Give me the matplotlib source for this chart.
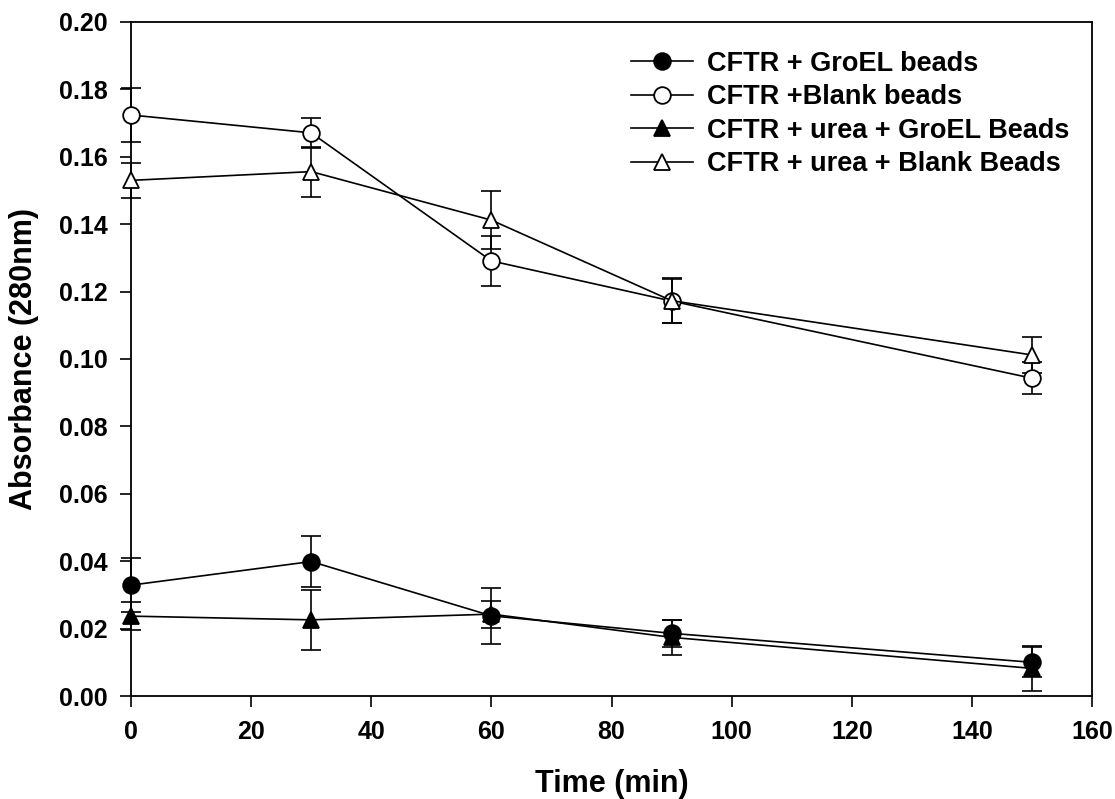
import matplotlib
matplotlib.use("Agg")
import matplotlib.pyplot as plt
import numpy as np

plt.rcParams['font.family'] = ['Liberation Sans', 'DejaVu Sans']
plt.rcParams['font.weight'] = 'bold'

time = [0, 30, 60, 90, 150]

groel = [0.0329, 0.0399, 0.0238, 0.0186, 0.0100]
groel_err = [0.0080, 0.0076, 0.0083, 0.0041, 0.0044]

blank = [0.1724, 0.1671, 0.1291, 0.1172, 0.0943]
blank_err = [0.0081, 0.0044, 0.0075, 0.0066, 0.0047]

urea_groel = [0.0237, 0.0226, 0.0243, 0.0174, 0.0082]
urea_groel_err = [0.0042, 0.0089, 0.0040, 0.0052, 0.0067]

urea_blank = [0.1530, 0.1556, 0.1412, 0.1173, 0.1012]
urea_blank_err = [0.0053, 0.0074, 0.0085, 0.0066, 0.0053]

labels = ["CFTR + GroEL beads", "CFTR +Blank beads",
          "CFTR + urea + GroEL Beads", "CFTR + urea + Blank Beads"]

fig = plt.figure(figsize=(11.15, 7.99), dpi=100)
ax = fig.add_axes([0.1175, 0.1289, 0.9794 - 0.1175, 0.9725 - 0.1289])

series = [
    (groel, groel_err, 'o', 'black'),
    (blank, blank_err, 'o', 'white'),
    (urea_groel, urea_groel_err, '^', 'black'),
    (urea_blank, urea_blank_err, '^', 'white'),
]
handles = []
for (vals, err, m, fc), lab in zip(series, labels):
    eb = ax.errorbar(time, vals, yerr=err, fmt='none', ecolor='black',
                     elinewidth=1.2, capsize=7.5, capthick=1.2, zorder=2)
    for art in eb.get_children():
        art.set_clip_on(False)
    h, = ax.plot(time, vals, color='black', lw=1.2, marker=m,
                 markersize=12 if m == 'o' else 11,
                 markerfacecolor=fc, markeredgecolor='black',
                 markeredgewidth=1.3, label=lab, zorder=3, clip_on=False)
    handles.append(h)

ax.set_xlim(0, 160)
ax.set_ylim(0, 0.20)
ax.set_xticks(np.arange(0, 161, 20))
ax.set_yticks(np.arange(0, 0.201, 0.02))
ax.set_yticklabels([f"{v:.2f}" for v in np.arange(0, 0.201, 0.02)])
ax.tick_params(direction='out', length=8, width=1.2, labelsize=18,
               top=False, right=False, pad=9)
for lab in ax.get_xticklabels() + ax.get_yticklabels():
    lab.set_fontweight('bold')
for s in ax.spines.values():
    s.set_linewidth(1.3)

ax.set_xlabel("Time (min)", fontsize=22, fontweight='bold', labelpad=18)
ax.set_ylabel("Absorbance (280nm)", fontsize=22, fontweight='bold', labelpad=14)

leg = ax.legend(handles=handles, loc='upper right', frameon=False,
                prop={'size': 19.5, 'weight': 'bold'}, handlelength=2.3,
                borderaxespad=0.0, borderpad=0.4, labelspacing=0.28,
                handletextpad=0.5,
                bbox_to_anchor=(0.9875, 0.9736))

fig.savefig("out.png", dpi=100)
